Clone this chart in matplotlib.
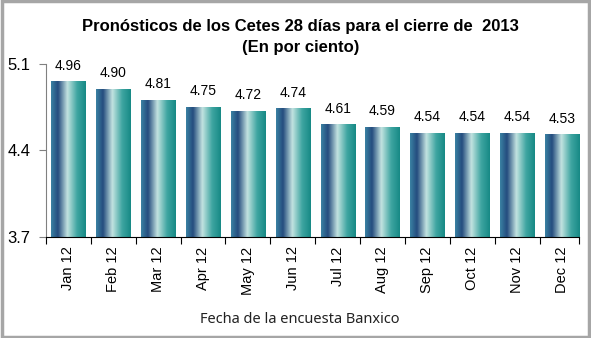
import numpy as np
import matplotlib.pyplot as plt
from matplotlib.colors import LinearSegmentedColormap

meses = ['Jan 12', 'Feb 12', 'Mar 12', 'Apr 12', 'May 12', 'Jun 12',
         'Jul 12', 'Aug 12', 'Sep 12', 'Oct 12', 'Nov 12', 'Dec 12']
cetes = [4.96, 4.90, 4.81, 4.75, 4.72, 4.74, 4.61, 4.59, 4.54, 4.54, 4.54, 4.53]
y_ticks = [3.7, 4.4, 5.1]
base = y_ticks[0]

plt.rcParams['font.family'] = ['Liberation Sans', 'DejaVu Sans']

# horizontal gradient for the bars: blue edge -> navy -> pale -> teal
grad = LinearSegmentedColormap.from_list('barras', [
    (0.0, '#3b82a3'), (0.2, '#244c7e'), (0.47, '#c2e3e0'),
    (0.75, '#3ea5a1'), (1.0, '#168985')])

fig = plt.figure(figsize=(5.91, 3.38), dpi=100)
ax = fig.add_axes([0.0778, 0.2997, 0.9019, 0.511])

x = np.arange(len(meses))
bw = 0.76
bars = ax.bar(x, np.array(cetes) - base, width=bw, bottom=base,
              color='none', zorder=2)
g = np.linspace(0, 1, 256).reshape(1, -1)
for b in bars:
    x0, y0, w, h = b.get_x(), b.get_y(), b.get_width(), b.get_height()
    im = ax.imshow(g, cmap=grad, aspect='auto', extent=[x0, x0 + w, y0, y0 + h],
                   zorder=2, interpolation='bilinear')
    im.set_clip_path(b)

for xi, v in zip(x, cetes):
    ax.text(xi, v + 0.095, f'{v:.2f}', ha='center', va='baseline', fontsize=10)

# the category axis stops at the right edge of the last bar
x_end = x[-1] + bw / 2
ax.set_xlim(-0.5, x_end)
ax.set_ylim(3.7, 5.1)
ax.set_yticks(y_ticks)
ax.set_yticklabels([f'{t:.1f}' for t in y_ticks], fontsize=12)
ax.set_xticks(x)
ax.set_xticklabels(meses, rotation=90, fontsize=10.5)
ax.set_xticks(list(np.arange(-0.5, len(meses) - 1)) + [x_end], minor=True)
ax.tick_params(axis='x', which='major', length=0, pad=7)
ax.tick_params(axis='x', which='minor', length=5, width=0.8, direction='out')
ax.tick_params(axis='y', length=5, width=0.8, direction='out', pad=6,
               color='#808080')
ax.spines['top'].set_visible(False)
ax.spines['right'].set_visible(False)
ax.spines['left'].set_color('#808080')
ax.spines['left'].set_linewidth(0.8)
ax.spines['bottom'].set_linewidth(0.8)

fig.text(0.508, 0.921, 'Pronósticos de los Cetes 28 días para el cierre de  2013',
         ha='center', va='center', fontsize=12, fontweight='bold')
fig.text(0.508, 0.86, '(En por ciento)', ha='center', va='center',
         fontsize=12, fontweight='bold')
fig.text(0.508, 0.055, 'Fecha de la encuesta Banxico', ha='center', va='center',
         fontsize=10.5, family=['Noto Sans', 'DejaVu Sans'], color='#222222')

# gray frame around the whole chart
fig.patches.append(plt.Rectangle((0.003, 0.004), 0.993, 0.992, transform=fig.transFigure,
                                 fill=False, edgecolor='#a6a6a6', linewidth=2.5))

fig.savefig('out.png', dpi=100)
